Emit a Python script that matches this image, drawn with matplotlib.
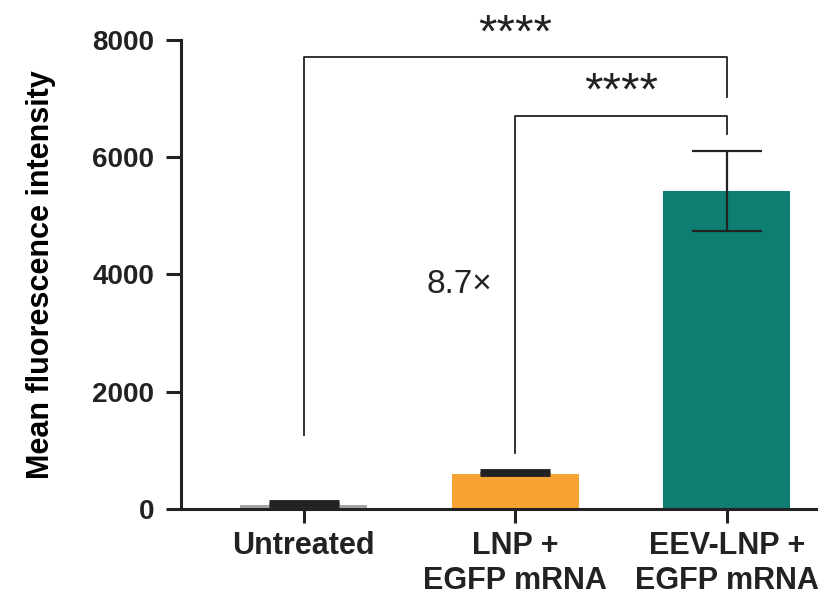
import matplotlib
matplotlib.use("Agg")
import matplotlib.pyplot as plt

plt.rcParams['font.family'] = ['Liberation Sans', 'DejaVu Sans']

categories = ["Untreated", "LNP +\nEGFP mRNA", "EEV-LNP +\nEGFP mRNA"]
means = [70, 600, 5420]
errors = [50, 40, 680]
colors = ["#a3a3a3", "#f7a434", "#0e7d72"]
yticks = [0, 2000, 4000, 6000, 8000]

# significance brackets: (left group, right group, left foot, right foot, top, label)
brackets = [
    (0, 2, 1260, 7030, 7700, "****"),
    (1, 2, 955, 6400, 6710, "****"),
]
fold_label = "8.7×"
fold_y = 3830

fig = plt.figure(figsize=(8.18, 5.95), dpi=100)
ax = fig.add_axes([0.221, 0.1445, 0.779, 0.7885])

x = list(range(len(categories)))
ax.bar(x, means, width=0.6, color=colors, zorder=1)
for xi, m, e in zip(x, means, errors):
    if xi == 2:
        ax.errorbar(xi, m, yerr=e, fmt='none', ecolor='#222222', elinewidth=1.6,
                    capsize=25, capthick=1.6, zorder=3)
    else:
        ax.errorbar(xi, m, yerr=[[0], [e]], fmt='none', ecolor='#222222',
                    elinewidth=1.6, capsize=25, capthick=3.5, zorder=3)

for a, b, ya, yb, top, lab in brackets:
    ax.plot([a, a, b, b], [ya, top, top, yb], color='#222222', lw=1.3,
            clip_on=False, zorder=4)
    ax.text((a + b) / 2, top + 10, lab, ha='center', va='bottom',
            fontsize=34, color='#222222', clip_on=False)

ax.text(0.89, fold_y, fold_label, ha='right', va='center', fontsize=24,
        color='#222222')

ax.set_xlim(-0.58, 2.43)
ax.set_ylim(0, 8000)
ax.set_yticks(yticks)
ax.set_yticklabels([str(t) for t in yticks], fontsize=20, fontweight='bold')
ax.set_xticks(x)
ax.set_xticklabels(categories, fontsize=22, fontweight='bold', linespacing=1.2)
ax.set_ylabel("Mean fluorescence intensity", fontsize=22, fontweight='bold',
              labelpad=26)

for s in ['top', 'right']:
    ax.spines[s].set_visible(False)
for s in ['left', 'bottom']:
    ax.spines[s].set_linewidth(2.2)
    ax.spines[s].set_color('#222222')
ax.tick_params(axis='y', length=11, width=2.2, color='#222222',
               labelcolor='#222222', pad=8)
ax.tick_params(axis='x', length=10, width=2.2, color='#222222',
               labelcolor='#222222', pad=6)

fig.savefig("out.png", dpi=100)
